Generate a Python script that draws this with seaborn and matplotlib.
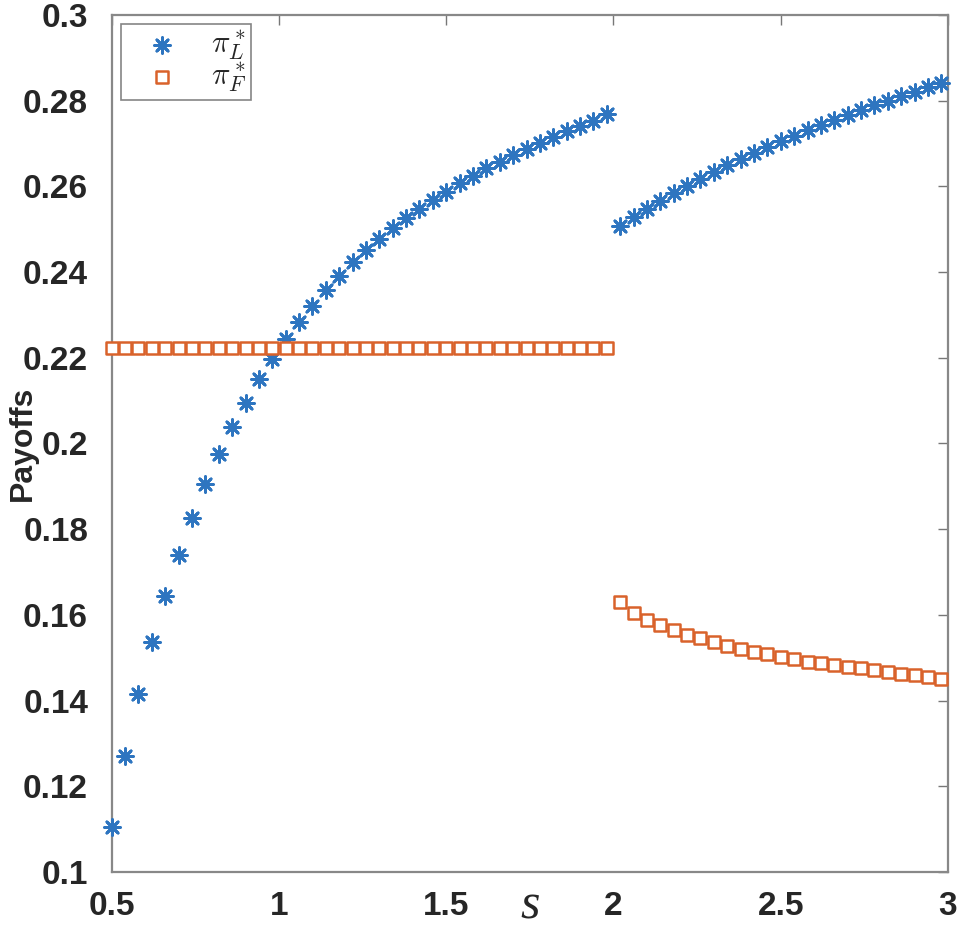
import numpy as np
import pandas as pd
import matplotlib.pyplot as plt
import seaborn as sns

# s grid, left branch (s < 2) and right branch (s > 2)
s_left = [0.50, 0.54, 0.58, 0.62, 0.66, 0.70, 0.74, 0.78, 0.82, 0.86,
          0.90, 0.94, 0.98, 1.02, 1.06, 1.10, 1.14, 1.18, 1.22, 1.26,
          1.30, 1.34, 1.38, 1.42, 1.46, 1.50, 1.54, 1.58, 1.62, 1.66,
          1.70, 1.74, 1.78, 1.82, 1.86, 1.90, 1.94, 1.98]
s_right = [2.02, 2.06, 2.10, 2.14, 2.18, 2.22, 2.26, 2.30, 2.34, 2.38,
           2.42, 2.46, 2.50, 2.54, 2.58, 2.62, 2.66, 2.70, 2.74, 2.78,
           2.82, 2.86, 2.90, 2.94, 2.98]

piL_left = [0.1105, 0.1270, 0.1415, 0.1537, 0.1645, 0.1740, 0.1825, 0.1905,
            0.1975, 0.2038, 0.2095, 0.2150, 0.2198, 0.2244, 0.2284, 0.2322,
            0.2358, 0.2392, 0.2423, 0.2452, 0.2478, 0.2503, 0.2526, 0.2548,
            0.2568, 0.2588, 0.2607, 0.2625, 0.2642, 0.2658, 0.2673, 0.2688,
            0.2702, 0.2716, 0.2729, 0.2741, 0.2753, 0.2768]
piF_left = [0.2222] * 38

piL_right = [0.2508, 0.2529, 0.2548, 0.2567, 0.2585, 0.2602, 0.2618, 0.2634,
             0.2649, 0.2664, 0.2678, 0.2692, 0.2705, 0.2718, 0.2731, 0.2743,
             0.2755, 0.2767, 0.2778, 0.2789, 0.2800, 0.2811, 0.2821, 0.2831,
             0.2841]
piF_right = [0.1630, 0.1605, 0.1588, 0.1576, 0.1564, 0.1554, 0.1545, 0.1537,
             0.1528, 0.1520, 0.1514, 0.1508, 0.1501, 0.1496, 0.1491, 0.1487,
             0.1483, 0.1479, 0.1475, 0.1471, 0.1467, 0.1463, 0.1460, 0.1456,
             0.1450]

xticks = [0.5, 1, 1.5, 2, 2.5, 3]
xticklabels = ['0.5', '1', '1.5', '2', '2.5', '3']
yticks = [0.1, 0.12, 0.14, 0.16, 0.18, 0.2, 0.22, 0.24, 0.26, 0.28, 0.3]
yticklabels = ['0.1', '0.12', '0.14', '0.16', '0.18', '0.2', '0.22', '0.24', '0.26', '0.28', '0.3']

blue = '#2E75C0'
orange = '#D9622B'

sns.set_style('white')
plt.rcParams['font.family'] = ['Liberation Sans', 'DejaVu Sans']
plt.rcParams['mathtext.fontset'] = 'cm'

df_L = pd.DataFrame({'s': s_left + s_right, 'pi': piL_left + piL_right})
df_F = pd.DataFrame({'s': s_left + s_right, 'pi': piF_left + piF_right})

fig = plt.figure(figsize=(9.64, 9.32), dpi=100)
ax = fig.add_axes([0.1159, 0.0644, 0.8675, 0.9195])

sns.scatterplot(data=df_L, x='s', y='pi', ax=ax, marker=(8, 2, 0), s=130,
                color=blue, edgecolor=blue, linewidth=2.0, label=r'$\pi^*_L$',
                clip_on=False, zorder=3)
sns.scatterplot(data=df_F, x='s', y='pi', ax=ax, marker='s', s=85,
                facecolor='white', edgecolor=orange, linewidth=1.8,
                label=r'$\pi^*_F$', clip_on=False, zorder=3)

ax.set_xlim(0.5, 3)
ax.set_ylim(0.1, 0.3)
ax.set_xticks(xticks)
ax.set_xticklabels(xticklabels, fontsize=24, fontweight='bold')
ax.set_yticks(yticks)
ax.set_yticklabels(yticklabels, fontsize=24, fontweight='bold')
ax.tick_params(direction='in', length=7, width=1, color='#777777',
               top=True, right=True)
ax.tick_params(axis='y', pad=17)
ax.tick_params(axis='x', pad=14)
for sp in ax.spines.values():
    sp.set_color('#888888')
    sp.set_linewidth(1.6)

ax.set_xlabel('s', fontsize=36, fontstyle='italic', family='Liberation Serif')
ax.xaxis.set_label_coords(0.5, -0.013)
ax.xaxis.label.set_va('top')
ax.set_ylabel('Payoffs', fontsize=23, fontweight='bold')
ax.yaxis.set_label_coords(-0.088, 0.5)

leg = ax.legend(loc='upper left', fontsize=22, frameon=True, fancybox=False,
                edgecolor='#666666', borderaxespad=0.3, handletextpad=0.4,
                borderpad=0.15, labelspacing=-0.1, handlelength=2.4)
leg.get_frame().set_linewidth(1.2)

fig.savefig('out.png', dpi=100)
